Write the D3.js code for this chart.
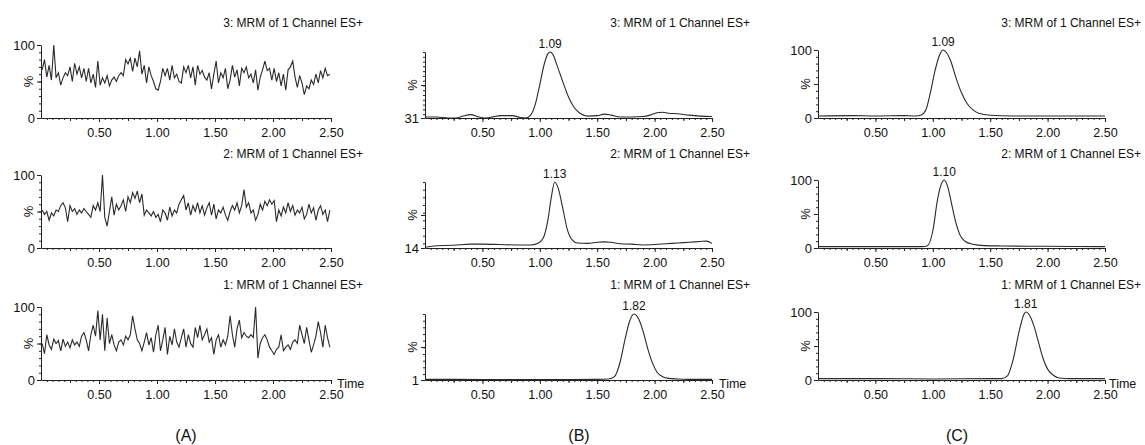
<!DOCTYPE html>
<html>
<script src='https://d3js.org/d3.v7.min.js'></script>
<style>
body {margin:0; background:#fff;}
text {font-family:'Liberation Sans', Arial, sans-serif; fill:#111;}
.trace {fill:none; stroke:#2a2a2a; stroke-width:1.1;}
.ax path, .ax line {stroke:#222; stroke-width:1;}
</style>
<body onload='init()'>
<script>
// chromatogram traces, top row = channel 3, bottom row = channel 1
var rowTitles = ['3: MRM of 1 Channel ES+', '2: MRM of 1 Channel ES+', '1: MRM of 1 Channel ES+'];
var xTicks = [0.5, 1.0, 1.5, 2.0, 2.5];
var panelNames = ['(A)', '(B)', '(C)'];

// (A) blank: evenly sampled scans from 0.01 to 2.49 min
var aScanStart = 0.01, aScanEnd = 2.49;
var aRow1 = [66,80,56,72,52,100,55,62,45,55, 62,58,70,50,75,60,70,55,68,50, 68,48,60,42,78,45,55,48,58,44,
  52,56,50,58,62,58,80,74,82,64, 82,70,92,60,72,48,70,58,50,40, 38,50,68,58,68,52,72,55,60,50,
  48,70,62,72,55,70,45,72,60,65, 56,52,62,40,60,78,48,62,55,68, 40,52,72,56,66,44,68,62,70,55,
  60,48,66,38,56,66,78,65,68,52, 68,50,62,44,60,38,66,70,78,56, 42,58,48,32,44,40,52,46,60,48, 65,55,68,58,60];
var aRow2 = [52,46,50,38,48,44,52,50,58,62, 55,36,58,50,54,46,52,48,54,50, 46,42,58,52,62,50,100,42,30,50,
  70,45,60,52,58,66,50,70,62,76, 68,78,62,74,45,52,48,44,50,42, 46,36,52,48,38,56,44,52,48,60,
  66,72,52,62,45,58,50,62,48,58, 45,55,62,45,60,40,52,48,56,45, 38,50,58,52,62,48,58,80,56,62,
  48,52,38,46,60,52,64,58,66,60, 65,36,52,44,56,48,62,50,58,45, 52,48,56,40,46,60,48,55,38,52, 58,46,52,36,52];
var aRow3 = [50,36,62,48,42,56,50,54,40,56, 46,52,44,55,48,52,46,60,65,55, 40,62,75,60,95,55,90,40,85,50,
  62,48,40,52,55,48,60,55,62,88, 70,55,50,40,52,65,48,58,38,62, 75,40,55,72,35,60,48,70,52,45,
  58,70,45,62,50,45,72,58,75,55, 62,70,52,58,35,55,62,45,55,48, 60,88,62,45,70,82,58,65,60,58,
  62,58,100,30,50,58,62,55,45,40, 35,42,45,62,40,45,48,42,52,55, 50,75,62,50,72,55,38,48,60,80, 65,45,75,58,45];

// (B) [time, %]
var bRow1 = [[0,32],[0.1,32],[0.2,31],[0.27,31],[0.33,33],[0.4,34.5],[0.47,32],[0.52,31],[0.58,32],[0.66,33.5],
  [0.76,33.5],[0.83,31.5],[0.88,31],[0.92,34],[0.96,45],[1.0,66],[1.04,88],[1.07,98],[1.09,100],[1.12,96],
  [1.15,86],[1.2,69],[1.25,53],[1.3,42],[1.35,36],[1.42,33],[1.5,33.5],[1.56,35],[1.62,34],[1.7,32],[1.8,32],
  [1.9,32.5],[1.96,34],[2.02,36.5],[2.07,37],[2.12,36],[2.2,35.5],[2.3,34],[2.4,33],[2.5,32.5]];
var bRow2 = [[0,15],[0.1,17],[0.25,17.5],[0.4,19],[0.5,19],[0.65,18.5],[0.8,18],[0.92,18],[0.98,20],[1.03,27],
  [1.07,50],[1.1,80],[1.13,100],[1.16,92],[1.2,66],[1.24,38],[1.28,25],[1.33,20.5],[1.42,20],[1.5,21.5],
  [1.56,22],[1.62,21.5],[1.7,19.5],[1.8,19],[1.9,18],[2.0,18.5],[2.1,19.5],[2.2,20.5],[2.3,21.5],[2.4,22.5],
  [2.45,23],[2.5,20]];
var bRow3 = [[0,2],[0.5,1.8],[1.0,1.8],[1.5,2],[1.6,2.5],[1.65,6],[1.7,28],[1.74,60],[1.78,88],[1.82,100],
  [1.86,93],[1.9,74],[1.94,48],[1.98,27],[2.02,13],[2.07,6],[2.12,3.5],[2.2,2.5],[2.3,2],[2.5,2]];
var bBaselines = [31, 14, 1];
var bPeaks = [1.09, 1.13, 1.82];

// (C) [time, %]
var cRow1 = [[0,3],[0.3,3.5],[0.5,3],[0.75,3.5],[0.85,3],[0.9,4.5],[0.94,12],[0.98,38],[1.02,70],[1.06,93],
  [1.09,100],[1.12,96],[1.16,82],[1.2,60],[1.25,37],[1.3,21],[1.35,12],[1.4,7],[1.5,4],[1.7,3],[2.0,3],[2.5,3]];
var cRow2 = [[0,2],[0.5,2],[0.9,2],[0.95,3],[1.0,25],[1.04,70],[1.07,92],[1.1,100],[1.13,90],[1.16,68],
  [1.2,38],[1.24,18],[1.28,10],[1.35,5.5],[1.45,3.5],[1.6,3],[2.0,2.5],[2.5,2]];
var cRow3 = [[0,2],[0.5,2],[1.0,1.5],[1.5,2],[1.6,2],[1.65,6],[1.7,30],[1.75,70],[1.79,95],[1.81,100],
  [1.84,96],[1.88,80],[1.92,56],[1.96,32],[2.0,16],[2.05,7],[2.1,3],[2.2,2],[2.5,2]];
var cPeaks = [1.09, 1.10, 1.81];

function init() {

var rowBottom = [118, 248, 380];
var titleY = [27, 158, 289];
var cols = [
  {x0:41,  x1:331,  h:73, titleRight:363,  labelX:186, timeX:337},
  {x0:425, x1:712,  h:66, titleRight:750,  labelX:579, timeX:719},
  {x0:818, x1:1105, h:68, titleRight:1141, labelX:957, timeX:1109}
];

var svg = d3.select('body')
.append('svg')
.attr('width', 1145)
.attr('height', 445);

var aRows = [aRow1, aRow2, aRow3];
var bRows = [bRow1, bRow2, bRow3];
var cRows = [cRow1, cRow2, cRow3];

for (var c = 0; c < 3; c++) {
  var col = cols[c];
  for (var r = 0; r < 3; r++) {
    var yMin = c == 1 ? bBaselines[r] : 0;
    var x = d3.scaleLinear().domain([0, 2.5]).range([col.x0, col.x1]);
    var y = d3.scaleLinear().domain([yMin, 100]).range([rowBottom[r], rowBottom[r] - col.h]);
    var g = svg.append('g');

    // trace
    var pts;
    if (c == 0) {
      var vals = aRows[r];
      var idx = d3.scaleLinear().domain([0, vals.length - 1]).range([aScanStart, aScanEnd]);
      pts = vals.map(function(v, i) { return [idx(i), v]; });
    } else {
      pts = c == 1 ? bRows[r] : cRows[r];
    }
    var line = d3.line()
      .x(function(d) { return x(d[0]); })
      .y(function(d) { return y(Math.max(d[1], yMin)); });
    if (c > 0) line.curve(d3.curveMonotoneX);
    g.append('path').attr('class', 'trace').attr('d', line(pts));

    // x axis: labelled majors + minor ticks
    g.append('g').attr('class', 'ax')
      .attr('transform', 'translate(0,' + rowBottom[r] + ')')
      .call(d3.axisBottom(x).tickValues(xTicks).tickFormat(d3.format('.2f'))
        .tickSize(4).tickSizeOuter(0).tickPadding(6))
      .call(function(s) { s.selectAll('text').style('font-size', '12.5px'); });
    g.append('g').attr('class', 'ax')
      .attr('transform', 'translate(0,' + rowBottom[r] + ')')
      .call(d3.axisBottom(x).tickValues(d3.range(0.05, 2.5, 0.05)).tickFormat('').tickSize(2).tickSizeOuter(0))
      .call(function(s) { s.select('.domain').remove(); });
    g.append('g').attr('class', 'ax')
      .attr('transform', 'translate(0,' + rowBottom[r] + ')')
      .call(d3.axisBottom(x).tickValues([0.25, 0.75, 1.25, 1.75, 2.25]).tickFormat('').tickSize(3).tickSizeOuter(0))
      .call(function(s) { s.select('.domain').remove(); });

    // y axis
    var yLab = c == 1 ? [yMin] : [0, 100];
    g.append('g').attr('class', 'ax')
      .attr('transform', 'translate(' + col.x0 + ',0)')
      .call(d3.axisLeft(y).tickValues(y.ticks(10)).tickFormat('').tickSize(2).tickSizeOuter(0));
    g.append('g').attr('class', 'ax')
      .attr('transform', 'translate(' + col.x0 + ',0)')
      .call(d3.axisLeft(y).tickValues(yLab.concat([(yMin + 100) / 2])).tickFormat(function(d) { return yLab.indexOf(d) >= 0 ? d : ''; })
        .tickSize(4).tickSizeOuter(0).tickPadding(2))
      .call(function(s) { s.select('.domain').remove(); s.selectAll('text').style('font-size', '13px'); });

    g.append('text')
      .attr('transform', 'translate(' + (col.x0 - 8) + ',' + y((yMin + 100) / 2) + ')rotate(-90)')
      .style('text-anchor', 'middle')
      .style('font-size', '13px')
      .text('%');

    // channel title
    g.append('text')
      .attr('x', col.titleRight)
      .attr('y', titleY[r])
      .style('text-anchor', 'end')
      .style('font-size', '12px')
      .text(rowTitles[r]);

    // peak retention time
    if (c > 0) {
      var pk = c == 1 ? bPeaks[r] : cPeaks[r];
      g.append('text')
        .attr('x', x(pk))
        .attr('y', y(100) - 4)
        .style('text-anchor', 'middle')
        .style('font-size', '12px')
        .text(pk.toFixed(2));
    }

    if (r == 2) {
      g.append('text')
        .attr('x', col.timeX)
        .attr('y', rowBottom[r] + 8)
        .style('font-size', '12.5px')
        .text('Time');
    }
  }

  svg.append('text')
    .attr('x', col.labelX)
    .attr('y', 441)
    .style('text-anchor', 'middle')
    .style('font-size', '16px')
    .text(panelNames[c]);
}

}
</script>
</body>
</html>
